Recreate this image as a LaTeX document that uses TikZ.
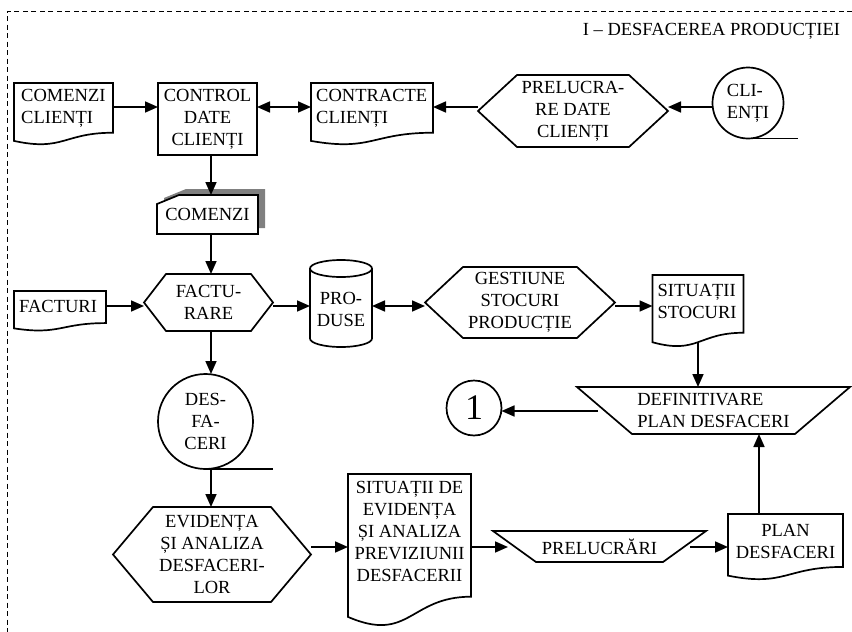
\documentclass[tikz,border=0pt]{standalone}
\usepackage{fontspec}
\setmainfont{Liberation Serif}
\usetikzlibrary{arrows.meta,calc}

\newcommand\lbl{\fontsize{18.5}{22}\selectfont}

% document symbol: flat top, wavy bottom (right end higher than left end)
\newcommand\docoutline[1]{%
  \draw[outline] (#1.north west) -- (#1.north east)
    -- ($(#1.north east)!0.802!(#1.south east)$)
    .. controls ($(#1.north)!0.802!(#1.south)$) and ($(#1.north)!1.1075!(#1.south)$)
    .. ($(#1.north west)!0.934!(#1.south west)$) -- cycle;}

% process hexagon with the given side inset
\newcommand\hexoutline[2]{%
  \draw[outline] (#1.west) -- ([xshift=#2]#1.north west) -- ([xshift=-#2]#1.north east)
    -- (#1.east) -- ([xshift=-#2]#1.south east) -- ([xshift=#2]#1.south west) -- cycle;}

% manual operation: wide top, narrow bottom
\newcommand\trapoutline[2]{%
  \draw[outline] (#1.north west) -- (#1.north east) -- ([xshift=-#2]#1.south east)
    -- ([xshift=#2]#1.south west) -- cycle;}

% punched card with clipped top-left corner, shifted by (#3,#4)
\newcommand\cardshape[4]{%
  \path[#1] ([xshift=#3,yshift=#4-9pt]#2.north west)
    -- ([xshift=#3+22pt,yshift=#4]#2.north west)
    -- ([xshift=#3,yshift=#4]#2.north east)
    -- ([xshift=#3,yshift=#4]#2.south east)
    -- ([xshift=#3,yshift=#4]#2.south west) -- cycle;}

\begin{document}
\begin{tikzpicture}[x=1pt,y=-1pt,font=\lbl,
  outline/.style={line width=1.7pt, line join=miter},
  box/.style={inner sep=0pt, outer sep=0pt, align=center},
  sz/.style 2 args={minimum width=#1pt, minimum height=#2pt},
  rectbox/.style={box, draw, outline},
  ring/.style={circle, draw, outline, inner sep=0pt, outer sep=0pt, align=center},
  tip/.tip={Triangle[length=13pt,width=11pt]},
  arr/.style={line width=1.7pt, -tip},
  darr/.style={line width=1.7pt, tip-tip},
  frame/.style={line width=0.9pt, dash pattern=on 5pt off 3.5pt},
  doctext/.style={inner sep=0pt, align=left, anchor=west},
  midtext/.style={inner sep=0pt, align=center}]

\useasboundingbox (0,0) rectangle (852,632);

% dashed frame and section title
\draw[frame] (852,11) -- (7,11) -- (7,632);
\node[box, anchor=east] (title) at (840,31) {I – DESFACEREA PRODUCȚIEI};

% helper rows and columns for the connectors
\coordinate (rowA) at (0,107);
\coordinate (rowB) at (0,306);
\coordinate (rowC) at (0,547);
\coordinate (colA) at (211,0);
\coordinate (colB) at (759,0);

% first row
\node[box, sz={99}{62}, label={[doctext, xshift=7pt, yshift=6pt]west:COMENZI\\CLIENȚI}] (ccl) at (63.5,114) {};
\docoutline{ccl}
\node[rectbox, sz={99}{72}] (ctrl) at (207.5,119) {CONTROL\\DATE\\CLIENȚI};
\node[box, sz={122}{62}, label={[doctext, xshift=5pt, yshift=6pt]west:CONTRACTE\\CLIENȚI}] (ctr) at (372,114) {};
\docoutline{ctr}
\node[box, sz={190}{72}] (prel) at (573,111) {PRELUCRA-\\RE DATE\\CLIENȚI};
\hexoutline{prel}{39pt}
\node[ring, minimum size=71pt, align=left] (cli) at (748,103) {CLI-\\ENȚI};
\draw[outline] (cli.south) -- ++(50,0);

% second row
\node[box, sz={101}{39}] (card) at (207.5,214.5) {};
\cardshape{fill=gray}{card}{7pt}{6pt}
\cardshape{outline, draw, fill=white}{card}{0pt}{0pt}
\node[box] (cardtext) at (card.center) {COMENZI};

\node[box, sz={92}{40}, label={[doctext, xshift=5pt, yshift=5pt]west:FACTURI}] (facturi) at (60,311) {};
\docoutline{facturi}
\node[box, sz={129}{57}] (fact) at (208.5,302.5) {FACTU-\\RARE};
\hexoutline{fact}{22pt}

\node[box, sz={62}{87}, label={[midtext, yshift=-5.5pt]center:PRO-\\DUSE}] (produse) at (341,303.5) {};
\draw[outline] ([yshift=-8.5pt]produse.north west) -- ([yshift=8.5pt]produse.south west)
  .. controls ([yshift=3.8pt]produse.south west) and ([xshift=-17.1pt]produse.south) .. (produse.south)
  .. controls ([xshift=17.1pt]produse.south) and ([yshift=3.8pt]produse.south east) .. ([yshift=8.5pt]produse.south east)
  -- ([yshift=-8.5pt]produse.north east);
\draw[outline] ([yshift=-8.5pt]produse.north) ellipse [x radius=31pt, y radius=8.5pt];

\node[box, sz={190}{71}] (gest) at (520,302.5) {GESTIUNE\\STOCURI\\PRODUCȚIE};
\hexoutline{gest}{38pt}
\node[box, sz={91}{72}, label={[doctext, xshift=5pt, yshift=10pt]west:SITUAȚII\\STOCURI}] (sitst) at (698,311) {};
\docoutline{sitst}

% plan definition and connector circle
\node[box, sz={273}{47}, align=left] (defin) at (713.5,410.5) {DEFINITIVARE\\PLAN DESFACERI};
\trapoutline{defin}{55pt}
\node[ring, minimum size=55pt, font=\fontsize{36}{36}\selectfont] (one) at (474,408) {1};

% sales file
\node[ring, minimum size=95pt] (desf) at (205.5,421.5) {DES-\\FA-\\CERI};
\draw[outline] (desf.south) -- ++(67.5,0);

% bottom row
\node[box, sz={198}{95}] (evid) at (212,554.5) {EVIDENȚA\\ȘI ANALIZA\\DESFACERI-\\LOR};
\hexoutline{evid}{40pt}
\node[box, sz={123}{153}, label={[midtext, yshift=19pt]center:SITUAȚII DE\\EVIDENȚA\\ȘI ANALIZA\\PREVIZIUNII\\DESFACERII}] (sitev) at (409.5,550.5) {};
\docoutline{sitev}
\node[box, sz={213}{31}] (prelr) at (599.5,546.5) {PRELUCRĂRI};
\trapoutline{prelr}{43pt}
\node[box, sz={115}{66}, label={[midtext, yshift=6pt]center:PLAN\\DESFACERI}] (plan) at (785.5,547) {};
\docoutline{plan}

% connector ends that sit off the node borders
\coordinate (sitbot) at ($(sitst.north)!0.93!(sitst.south)$);
\coordinate (dleft) at ([xshift=21pt,yshift=-0.5pt]defin.west);
\coordinate (pin) at ([xshift=15pt]prelr.west|-rowC);
\coordinate (pout) at ([xshift=-16pt]prelr.east|-rowC);

% connectors
\draw[arr] (ccl.east|-rowA) -- (ctrl.west|-rowA);
\draw[darr] (ctrl.east|-rowA) -- (ctr.west|-rowA);
\draw[arr] (prel.west|-rowA) -- (ctr.east|-rowA);
\draw[arr] (cli.west|-rowA) -- (prel.east|-rowA);
\draw[arr] (colA|-ctrl.south) -- (colA|-card.north);
\draw[arr] (colA|-card.south) -- (colA|-fact.north);
\draw[arr] (facturi.east|-rowB) -- (fact.west|-rowB);
\draw[arr] (fact.east|-rowB) -- (produse.west|-rowB);
\draw[darr] (produse.east|-rowB) -- (gest.west|-rowB);
\draw[arr] (gest.east|-rowB) -- (sitst.west|-rowB);
\draw[arr] (sitbot) -- (sitbot|-defin.north);
\draw[arr] (dleft) -- (dleft-|one.east);
\draw[arr] (colA|-fact.south) -- (colA|-desf.north);
\draw[arr] (colA|-desf.south) -- (colA|-evid.north);
\draw[arr] (evid.east|-rowC) -- (sitev.west|-rowC);
\draw[arr] (sitev.east|-rowC) -- (pin);
\draw[arr] (pout) -- (plan.west|-rowC);
\draw[arr] (colB|-plan.north) -- (colB|-defin.south);
\end{tikzpicture}
\end{document}
